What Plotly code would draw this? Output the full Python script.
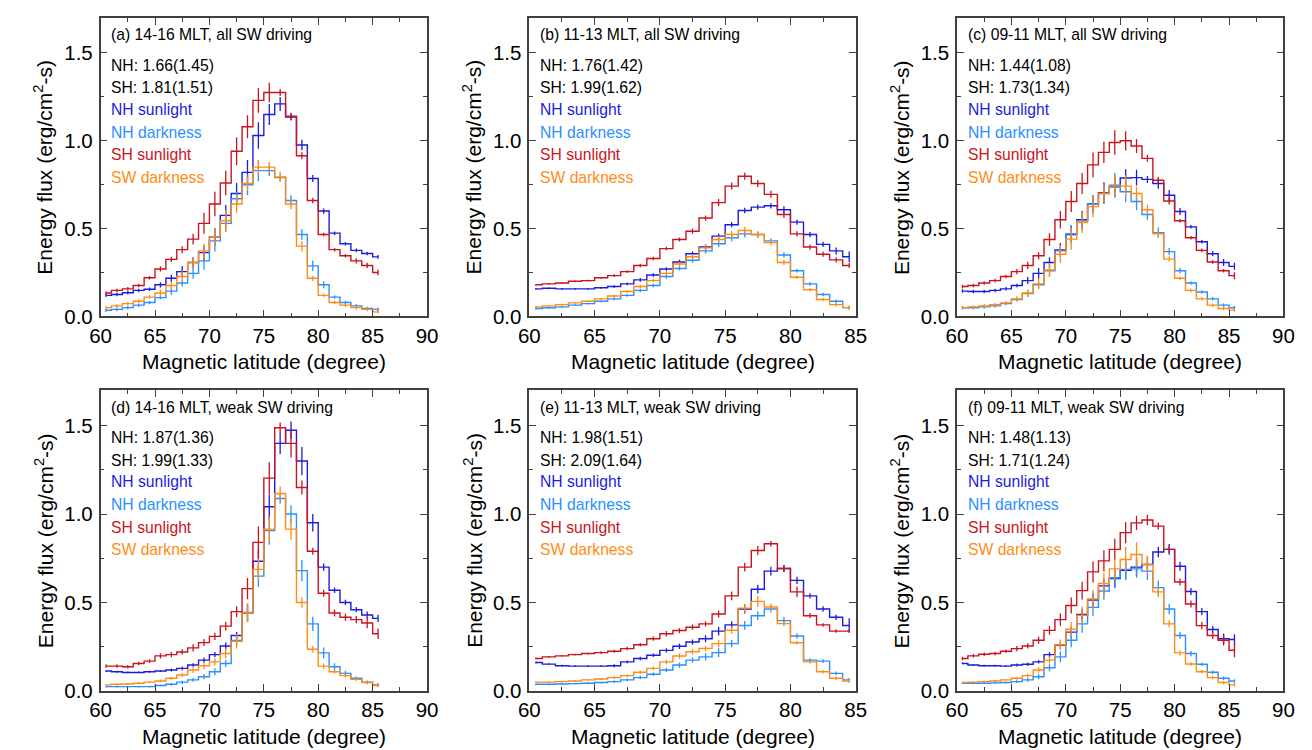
import plotly.graph_objects as go

# magnetic latitude bin centres
lat_86 = [60.5 + i for i in range(26)]   # 60.5 .. 85.5
lat_85 = [60.5 + i for i in range(25)]   # 60.5 .. 84.5

# (a) 14-16 MLT, all SW driving
a_nh_sun = [0.12, 0.125, 0.135, 0.148, 0.155, 0.18, 0.217, 0.255, 0.307, 0.363, 0.453, 0.575, 0.70, 0.82, 1.03,
            1.15, 1.21, 1.135, 0.976, 0.785, 0.60, 0.474, 0.414, 0.376, 0.358, 0.339]
a_nh_dark = [0.035, 0.04, 0.05, 0.064, 0.079, 0.107, 0.144, 0.19, 0.245, 0.316, 0.43, 0.53, 0.67, 0.75, 0.83,
             0.83, 0.79, 0.66, 0.466, 0.288, 0.18, 0.11, 0.079, 0.06, 0.045, 0.04]
a_sh_sun = [0.133, 0.148, 0.157, 0.176, 0.22, 0.27, 0.325, 0.38, 0.44, 0.53, 0.64, 0.76, 0.94, 1.08, 1.23,
            1.275, 1.275, 1.14, 0.915, 0.66, 0.466, 0.38, 0.345, 0.316, 0.29, 0.25]
a_sw_dark = [0.05, 0.06, 0.073, 0.086, 0.11, 0.133, 0.176, 0.227, 0.307, 0.373, 0.453, 0.545, 0.64, 0.757, 0.85,
             0.85, 0.794, 0.64, 0.40, 0.217, 0.12, 0.079, 0.064, 0.05, 0.04, 0.026]
a_nh_sun_err = [0.01, 0.01, 0.01, 0.01, 0.01, 0.015, 0.02, 0.03, 0.03, 0.04, 0.05, 0.06, 0.06, 0.07, 0.075,
                0.06, 0.04, 0.02, 0.03, 0.02, 0.015, 0.01, 0.01, 0.01, 0.01, 0.01]
a_nh_dark_err = [0.01, 0.01, 0.01, 0.01, 0.01, 0.01, 0.02, 0.02, 0.03, 0.05, 0.06, 0.05, 0.04, 0.06, 0.06,
                 0.03, 0.02, 0.03, 0.03, 0.03, 0.02, 0.01, 0.01, 0.01, 0.01, 0.01]
a_sh_sun_err = [0.01, 0.01, 0.01, 0.01, 0.01, 0.015, 0.015, 0.02, 0.03, 0.06, 0.07, 0.07, 0.08, 0.065, 0.07,
                0.055, 0.02, 0.02, 0.02, 0.015, 0.01, 0.01, 0.01, 0.015, 0.015, 0.015]
a_sw_dark_err = [0.01, 0.01, 0.01, 0.01, 0.01, 0.02, 0.02, 0.03, 0.03, 0.04, 0.05, 0.06, 0.05, 0.04, 0.04,
                 0.03, 0.03, 0.03, 0.03, 0.015, 0.01, 0.01, 0.01, 0.01, 0.01, 0.01]

# (b) 11-13 MLT, all SW driving
b_nh_sun = [0.157, 0.16, 0.157, 0.157, 0.157, 0.163, 0.17, 0.185, 0.208, 0.236, 0.27, 0.31, 0.357, 0.395, 0.457,
            0.522, 0.603, 0.622, 0.63, 0.607, 0.537, 0.466, 0.41, 0.373, 0.34]
b_nh_dark = [0.045, 0.049, 0.054, 0.064, 0.073, 0.086, 0.10, 0.12, 0.148, 0.176, 0.227, 0.273, 0.32, 0.373, 0.414,
             0.448, 0.47, 0.466, 0.43, 0.35, 0.26, 0.185, 0.125, 0.086, 0.05]
b_sh_sun = [0.18, 0.185, 0.19, 0.20, 0.204, 0.22, 0.232, 0.255, 0.29, 0.33, 0.386, 0.438, 0.485, 0.56, 0.648,
            0.742, 0.798, 0.757, 0.695, 0.58, 0.47, 0.395, 0.354, 0.322, 0.29]
b_sw_dark = [0.054, 0.06, 0.067, 0.077, 0.086, 0.10, 0.116, 0.142, 0.17, 0.204, 0.245, 0.298, 0.34, 0.39, 0.438,
             0.466, 0.489, 0.466, 0.42, 0.307, 0.223, 0.152, 0.096, 0.067, 0.05]
b_nh_sun_err = [0.005, 0.005, 0.005, 0.005, 0.005, 0.005, 0.008, 0.008, 0.01, 0.01, 0.01, 0.012, 0.012, 0.015,
                0.015, 0.015, 0.015, 0.015, 0.015, 0.02, 0.015, 0.015, 0.015, 0.02, 0.03]
b_nh_dark_err = [0.005, 0.005, 0.005, 0.005, 0.005, 0.005, 0.008, 0.008, 0.01, 0.01, 0.012, 0.012, 0.015, 0.015,
                 0.02, 0.02, 0.02, 0.015, 0.015, 0.015, 0.01, 0.01, 0.01, 0.01, 0.01]
b_sh_sun_err = [0.005, 0.005, 0.005, 0.005, 0.005, 0.005, 0.008, 0.008, 0.01, 0.01, 0.01, 0.012, 0.015, 0.015,
                0.02, 0.02, 0.02, 0.02, 0.02, 0.02, 0.015, 0.015, 0.015, 0.015, 0.015]
b_sw_dark_err = [0.005, 0.005, 0.005, 0.005, 0.005, 0.005, 0.008, 0.008, 0.01, 0.01, 0.012, 0.012, 0.015, 0.015,
                 0.02, 0.02, 0.02, 0.02, 0.015, 0.015, 0.01, 0.01, 0.01, 0.01, 0.01]

# (c) 09-11 MLT, all SW driving
c_nh_sun = [0.144, 0.142, 0.142, 0.148, 0.157, 0.176, 0.204, 0.245, 0.307, 0.378, 0.466, 0.55, 0.64, 0.704, 0.738,
            0.788, 0.79, 0.78, 0.757, 0.69, 0.597, 0.51, 0.425, 0.357, 0.307, 0.285]
c_nh_dark = [0.049, 0.049, 0.054, 0.06, 0.073, 0.096, 0.13, 0.18, 0.26, 0.373, 0.47, 0.545, 0.64, 0.70, 0.747,
             0.71, 0.654, 0.58, 0.476, 0.369, 0.26, 0.19, 0.139, 0.10, 0.064, 0.049]
c_sh_sun = [0.17, 0.176, 0.19, 0.204, 0.227, 0.255, 0.29, 0.345, 0.438, 0.55, 0.654, 0.757, 0.863, 0.934, 0.99,
            1.0, 0.97, 0.90, 0.775, 0.657, 0.545, 0.448, 0.376, 0.31, 0.26, 0.232]
c_sw_dark = [0.05, 0.054, 0.06, 0.067, 0.077, 0.10, 0.133, 0.185, 0.264, 0.354, 0.44, 0.535, 0.625, 0.70, 0.742,
             0.742, 0.70, 0.607, 0.47, 0.326, 0.217, 0.148, 0.10, 0.064, 0.045, 0.036]
c_nh_sun_err = [0.01, 0.01, 0.01, 0.01, 0.01, 0.01, 0.02, 0.03, 0.03, 0.04, 0.05, 0.05, 0.05, 0.06, 0.06,
                0.05, 0.045, 0.02, 0.03, 0.03, 0.02, 0.01, 0.01, 0.015, 0.02, 0.02]
c_nh_dark_err = [0.01, 0.01, 0.01, 0.01, 0.01, 0.01, 0.02, 0.02, 0.03, 0.03, 0.05, 0.05, 0.04, 0.06, 0.07,
                 0.06, 0.05, 0.03, 0.03, 0.02, 0.015, 0.01, 0.01, 0.01, 0.01, 0.01]
c_sh_sun_err = [0.01, 0.01, 0.01, 0.01, 0.01, 0.015, 0.02, 0.02, 0.035, 0.05, 0.06, 0.06, 0.07, 0.06, 0.07,
                0.055, 0.04, 0.02, 0.02, 0.02, 0.01, 0.01, 0.01, 0.01, 0.01, 0.02]
c_sw_dark_err = [0.01, 0.01, 0.01, 0.01, 0.01, 0.015, 0.02, 0.03, 0.04, 0.05, 0.06, 0.06, 0.06, 0.05, 0.06,
                 0.06, 0.04, 0.03, 0.02, 0.015, 0.01, 0.01, 0.01, 0.01, 0.01, 0.01]

# (d) 14-16 MLT, weak SW driving
d_nh_sun = [0.112, 0.108, 0.104, 0.104, 0.108, 0.112, 0.118, 0.127, 0.146, 0.174, 0.205, 0.254, 0.313, 0.44, 0.733,
            1.041, 1.40, 1.474, 1.30, 0.951, 0.70, 0.569, 0.50, 0.459, 0.429, 0.41]
d_nh_dark = [0.024, 0.024, 0.024, 0.024, 0.024, 0.03, 0.037, 0.049, 0.062, 0.08, 0.108, 0.155, 0.285, 0.444, 0.649,
             0.907, 1.088, 1.0, 0.68, 0.379, 0.215, 0.136, 0.099, 0.071, 0.049, 0.034]
d_sh_sun = [0.14, 0.14, 0.136, 0.155, 0.168, 0.198, 0.205, 0.22, 0.243, 0.273, 0.308, 0.366, 0.448, 0.578, 0.84,
            1.203, 1.488, 1.40, 1.15, 0.79, 0.552, 0.44, 0.416, 0.403, 0.384, 0.323]
d_sw_dark = [0.034, 0.037, 0.039, 0.043, 0.049, 0.056, 0.071, 0.09, 0.118, 0.142, 0.164, 0.211, 0.28, 0.44, 0.687,
             0.915, 1.116, 0.915, 0.50, 0.235, 0.14, 0.108, 0.086, 0.065, 0.047, 0.03]
d_nh_sun_err = [0.005, 0.005, 0.005, 0.005, 0.005, 0.005, 0.008, 0.01, 0.01, 0.015, 0.015, 0.02, 0.02, 0.05, 0.07,
                0.07, 0.06, 0.05, 0.08, 0.05, 0.02, 0.015, 0.015, 0.015, 0.02, 0.02]
d_nh_dark_err = [0.005, 0.005, 0.005, 0.005, 0.005, 0.005, 0.008, 0.01, 0.01, 0.015, 0.02, 0.02, 0.03, 0.05, 0.06,
                 0.08, 0.03, 0.05, 0.06, 0.04, 0.03, 0.02, 0.015, 0.01, 0.01, 0.01]
d_sh_sun_err = [0.01, 0.01, 0.01, 0.01, 0.01, 0.015, 0.015, 0.015, 0.02, 0.02, 0.02, 0.025, 0.03, 0.06, 0.09,
                0.09, 0.03, 0.08, 0.04, 0.02, 0.02, 0.02, 0.02, 0.02, 0.03, 0.03]
d_sw_dark_err = [0.005, 0.005, 0.005, 0.005, 0.005, 0.008, 0.008, 0.01, 0.015, 0.02, 0.02, 0.03, 0.04, 0.05, 0.06,
                 0.07, 0.04, 0.06, 0.03, 0.02, 0.015, 0.01, 0.01, 0.01, 0.01, 0.01]

# (e) 11-13 MLT, weak SW driving
e_nh_sun = [0.16, 0.151, 0.142, 0.14, 0.14, 0.14, 0.142, 0.164, 0.183, 0.201, 0.229, 0.252, 0.276, 0.295, 0.338,
            0.373, 0.463, 0.575, 0.677, 0.692, 0.625, 0.537, 0.463, 0.416, 0.37]
e_nh_dark = [0.037, 0.037, 0.039, 0.041, 0.043, 0.047, 0.052, 0.062, 0.075, 0.094, 0.118, 0.146, 0.174, 0.192, 0.216,
             0.267, 0.37, 0.425, 0.463, 0.397, 0.31, 0.174, 0.168, 0.099, 0.062]
e_sh_sun = [0.183, 0.192, 0.198, 0.205, 0.211, 0.216, 0.224, 0.239, 0.261, 0.295, 0.323, 0.341, 0.36, 0.379, 0.435,
            0.537, 0.70, 0.794, 0.832, 0.692, 0.56, 0.425, 0.373, 0.338, 0.338]
e_sw_dark = [0.049, 0.049, 0.052, 0.056, 0.062, 0.067, 0.075, 0.086, 0.105, 0.127, 0.164, 0.197, 0.221, 0.24, 0.267,
             0.343, 0.468, 0.506, 0.474, 0.38, 0.272, 0.164, 0.108, 0.071, 0.056]
e_nh_sun_err = [0.005, 0.005, 0.005, 0.005, 0.005, 0.005, 0.008, 0.008, 0.01, 0.01, 0.012, 0.015, 0.015, 0.02,
                0.025, 0.02, 0.025, 0.025, 0.025, 0.02, 0.02, 0.015, 0.015, 0.015, 0.04]
e_nh_dark_err = [0.005, 0.005, 0.005, 0.005, 0.005, 0.005, 0.008, 0.008, 0.01, 0.01, 0.012, 0.015, 0.015, 0.02,
                 0.025, 0.02, 0.025, 0.025, 0.02, 0.02, 0.015, 0.01, 0.01, 0.01, 0.01]
e_sh_sun_err = [0.005, 0.005, 0.005, 0.005, 0.005, 0.008, 0.008, 0.01, 0.01, 0.012, 0.015, 0.015, 0.015, 0.015,
                0.02, 0.025, 0.025, 0.025, 0.015, 0.02, 0.03, 0.015, 0.01, 0.01, 0.01]
e_sw_dark_err = [0.005, 0.005, 0.005, 0.005, 0.005, 0.005, 0.008, 0.008, 0.01, 0.01, 0.012, 0.015, 0.015, 0.015,
                 0.02, 0.02, 0.025, 0.03, 0.02, 0.015, 0.01, 0.01, 0.01, 0.01, 0.01]

# (f) 09-11 MLT, weak SW driving
f_nh_sun = [0.155, 0.146, 0.142, 0.142, 0.14, 0.146, 0.15, 0.164, 0.205, 0.258, 0.332, 0.432, 0.514, 0.594, 0.635,
            0.682, 0.70, 0.715, 0.785, 0.80, 0.705, 0.562, 0.448, 0.347, 0.295, 0.29]
f_nh_dark = [0.043, 0.043, 0.043, 0.045, 0.047, 0.052, 0.062, 0.08, 0.131, 0.192, 0.286, 0.379, 0.472, 0.565, 0.64,
             0.687, 0.69, 0.677, 0.584, 0.463, 0.313, 0.211, 0.15, 0.105, 0.071, 0.056]
f_sh_sun = [0.183, 0.198, 0.207, 0.211, 0.224, 0.239, 0.254, 0.286, 0.342, 0.403, 0.483, 0.567, 0.673, 0.735, 0.80,
            0.895, 0.95, 0.966, 0.932, 0.80, 0.616, 0.491, 0.369, 0.313, 0.286, 0.23]
f_sw_dark = [0.047, 0.049, 0.052, 0.056, 0.062, 0.071, 0.086, 0.118, 0.174, 0.261, 0.348, 0.427, 0.52, 0.607, 0.69,
             0.743, 0.771, 0.715, 0.56, 0.379, 0.215, 0.152, 0.108, 0.075, 0.047, 0.034]
f_nh_sun_err = [0.005, 0.005, 0.005, 0.005, 0.005, 0.008, 0.01, 0.01, 0.015, 0.02, 0.03, 0.03, 0.04, 0.04, 0.05,
                0.05, 0.05, 0.04, 0.03, 0.03, 0.025, 0.02, 0.02, 0.02, 0.03, 0.03]
f_nh_dark_err = [0.005, 0.005, 0.005, 0.005, 0.005, 0.008, 0.01, 0.015, 0.02, 0.03, 0.04, 0.05, 0.05, 0.05, 0.06,
                 0.06, 0.05, 0.05, 0.04, 0.03, 0.02, 0.015, 0.01, 0.01, 0.01, 0.01]
f_sh_sun_err = [0.01, 0.01, 0.01, 0.01, 0.01, 0.015, 0.015, 0.02, 0.025, 0.035, 0.045, 0.05, 0.06, 0.06, 0.06,
                0.06, 0.04, 0.03, 0.02, 0.02, 0.02, 0.02, 0.02, 0.02, 0.03, 0.04]
f_sw_dark_err = [0.005, 0.005, 0.005, 0.005, 0.005, 0.008, 0.01, 0.015, 0.02, 0.03, 0.04, 0.05, 0.05, 0.06, 0.06,
                 0.07, 0.07, 0.05, 0.03, 0.02, 0.015, 0.01, 0.01, 0.01, 0.01, 0.01]

titles = ["(a) 14-16 MLT, all SW driving", "(b) 11-13 MLT, all SW driving", "(c) 09-11 MLT, all SW driving",
          "(d) 14-16 MLT, weak SW driving", "(e) 11-13 MLT, weak SW driving", "(f) 09-11 MLT, weak SW driving"]
nh_stats = ["NH: 1.66(1.45)", "NH: 1.76(1.42)", "NH: 1.44(1.08)", "NH: 1.87(1.36)", "NH: 1.98(1.51)", "NH: 1.48(1.13)"]
sh_stats = ["SH: 1.81(1.51)", "SH: 1.99(1.62)", "SH: 1.73(1.34)", "SH: 1.99(1.33)", "SH: 2.09(1.64)", "SH: 1.71(1.24)"]
series_names = ["NH sunlight", "NH darkness", "SH sunlight", "SW darkness"]
xmax = [90, 85, 90, 90, 85, 90]

colors = ["#1c1cdc", "#2b8fff", "#c8141e", "#ff8c14"]
FONT = "Liberation Sans, Arial, sans-serif"

panels = [
    (lat_86, [a_nh_sun, a_nh_dark, a_sh_sun, a_sw_dark], [a_nh_sun_err, a_nh_dark_err, a_sh_sun_err, a_sw_dark_err]),
    (lat_85, [b_nh_sun, b_nh_dark, b_sh_sun, b_sw_dark], [b_nh_sun_err, b_nh_dark_err, b_sh_sun_err, b_sw_dark_err]),
    (lat_86, [c_nh_sun, c_nh_dark, c_sh_sun, c_sw_dark], [c_nh_sun_err, c_nh_dark_err, c_sh_sun_err, c_sw_dark_err]),
    (lat_86, [d_nh_sun, d_nh_dark, d_sh_sun, d_sw_dark], [d_nh_sun_err, d_nh_dark_err, d_sh_sun_err, d_sw_dark_err]),
    (lat_85, [e_nh_sun, e_nh_dark, e_sh_sun, e_sw_dark], [e_nh_sun_err, e_nh_dark_err, e_sh_sun_err, e_sw_dark_err]),
    (lat_86, [f_nh_sun, f_nh_dark, f_sh_sun, f_sw_dark], [f_nh_sun_err, f_nh_dark_err, f_sh_sun_err, f_sw_dark_err]),
]

W, H = 1312, 750
# plot boxes in pixels: left, right, top, bottom
col_px = [(83, 415), (519, 851), (954, 1286)]
row_px = [(10, 313), (388, 693)]

fig = go.Figure()
layout = {}
annotations = []

for k, (lat, ys, errs) in enumerate(panels):
    r, c = divmod(k, 3)
    l, rr = col_px[c]
    t, b = row_px[r]
    n = k + 1
    xa = "x" if n == 1 else f"x{n}"
    ya = "y" if n == 1 else f"y{n}"

    for j in range(4):
        fig.add_trace(go.Scatter(
            x=lat, y=ys[j], mode="lines", line=dict(color=colors[j], width=1.4, shape="hvh"),
            error_y=dict(type="data", array=errs[j], width=0, thickness=1.3, color=colors[j]),
            xaxis=xa, yaxis=ya, showlegend=False, name=series_names[j]))

    axis_common = dict(
        showline=True, linecolor="#404040", linewidth=1.5, mirror="ticks",
        ticks="inside", ticklen=7, tickwidth=1.3, tickcolor="#404040",
        showgrid=False, zeroline=False,
        tickfont=dict(family=FONT, size=20.5, color="black"),
    )
    layout["xaxis" if n == 1 else f"xaxis{n}"] = dict(
        axis_common, domain=[l / W, rr / W], range=[60, xmax[k]], dtick=5, anchor=ya,
        minor=dict(dtick=2.5, ticks="inside", ticklen=4, tickcolor="#404040"),
        ticklabelstandoff=0)
    layout["yaxis" if n == 1 else f"yaxis{n}"] = dict(
        axis_common, domain=[1 - b / H, 1 - t / H], range=[0, 1.7], dtick=0.5, tickformat=".1f", anchor=xa,
        minor=dict(dtick=0.25, ticks="inside", ticklen=4, tickcolor="#404040"),
        ticklabelstandoff=2)

    # text block inside the panel
    lines = [(titles[k], "black", 17), (nh_stats[k], "black", 48), (sh_stats[k], "black", 71)]
    for j in range(4):
        lines.append((series_names[j], colors[j], 93 + 23 * j))
    for txt, col, dy in lines:
        annotations.append(dict(
            text=txt, xref="paper", yref="paper", x=(l + 9) / W, y=1 - (t + dy) / H,
            xanchor="left", yanchor="middle", showarrow=False,
            font=dict(family=FONT, size=15.7, color=col)))

    # axis titles
    annotations.append(dict(
        text="Magnetic latitude (degree)", xref="paper", yref="paper",
        x=(l + rr) / 2 / W, y=1 - (b + 46) / H, xanchor="center", yanchor="middle", showarrow=False,
        font=dict(family=FONT, size=21, color="black")))
    annotations.append(dict(
        text="Energy flux (erg/cm<sup>2</sup>-s)", xref="paper", yref="paper",
        x=(l - 58) / W, y=1 - (t + b) / 2 / H, xanchor="center", yanchor="middle", showarrow=False,
        textangle=-90, font=dict(family=FONT, size=21, color="black")))

fig.update_layout(
    width=W, height=H,
    margin=dict(l=0, r=0, t=0, b=0),
    paper_bgcolor="white", plot_bgcolor="white",
    annotations=annotations,
    **layout
)

fig.write_html("out.html")
